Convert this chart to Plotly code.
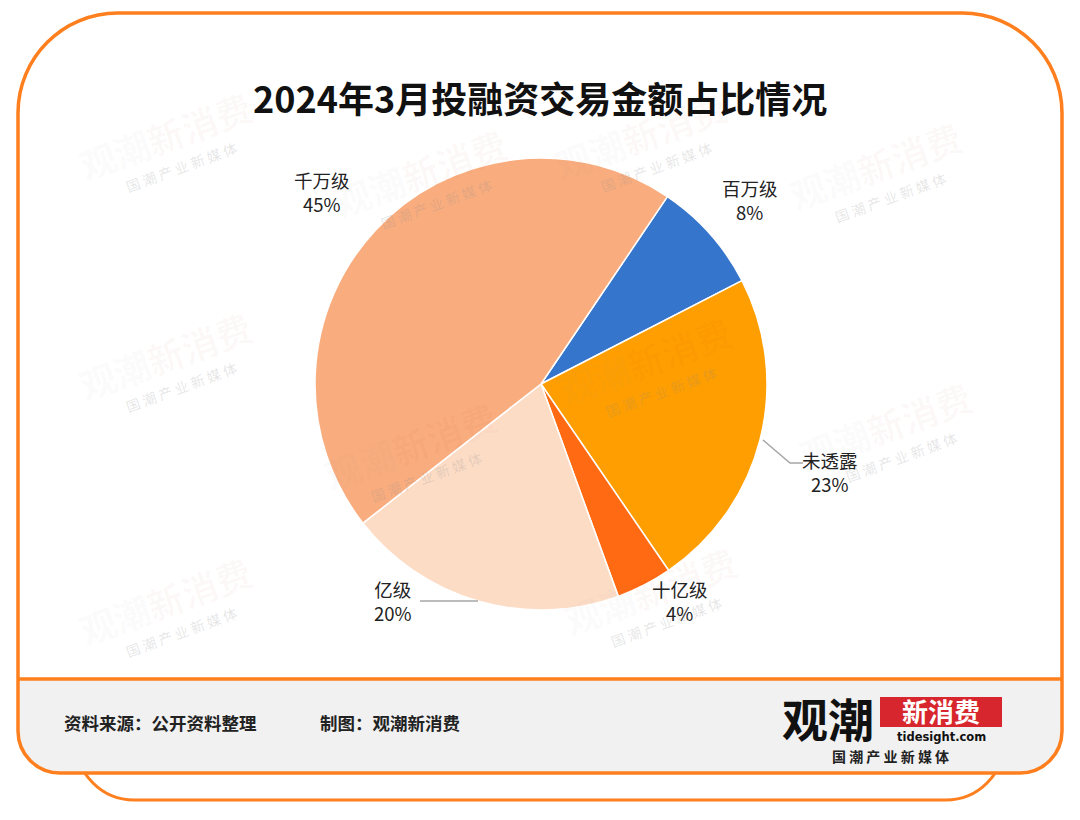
import math
import plotly.graph_objects as go

# ---------------- data ----------------
labels = ["百万级", "未透露", "十亿级", "亿级", "千万级"]
values = [8, 23, 4, 20, 45]
colors = ["#3575CC", "#FF9E00", "#FF6A12", "#FDDCC6", "#F9AD7E"]
title_text = "2024年3月投融资交易金额占比情况"
source_text = "资料来源：公开资料整理"
maker_text = "制图：观潮新消费"

W, H = 1080, 820
OFF = 8  # page body margin offset


def X(px):
    return (px - OFF) / W


def Y(py):
    return 1 - (py - OFF) / H


def P(px, py):
    return f"{X(px):.5f},{Y(py):.5f}"


ORANGE = "#FF7F1E"
K = 0.5523

# ---------------- pie ----------------
cx, cy, r = 541, 384, 226
fig = go.Figure()
fig.add_trace(go.Pie(
    labels=labels, values=values, sort=False, direction="clockwise",
    rotation=34, textinfo="none", hoverinfo="label+percent",
    marker=dict(colors=colors, line=dict(color="white", width=1.5)),
    domain=dict(x=[X(cx - r), X(cx + r)], y=[Y(cy + r), Y(cy - r)]),
    showlegend=False,
))

shapes = []


def card_path(x0, y0, x1, y1, rt, rb):
    p = []
    p.append("M " + P(x0, y1 - rb))
    p.append("L " + P(x0, y0 + rt))
    p.append("C " + P(x0, y0 + rt - K * rt) + " " + P(x0 + rt - K * rt, y0) + " " + P(x0 + rt, y0))
    p.append("L " + P(x1 - rt, y0))
    p.append("C " + P(x1 - rt + K * rt, y0) + " " + P(x1, y0 + rt - K * rt) + " " + P(x1, y0 + rt))
    p.append("L " + P(x1, y1 - rb))
    p.append("C " + P(x1, y1 - rb + K * rb) + " " + P(x1 - rb + K * rb, y1) + " " + P(x1 - rb, y1))
    p.append("L " + P(x0 + rb, y1))
    p.append("C " + P(x0 + rb - K * rb, y1) + " " + P(x0, y1 - rb + K * rb) + " " + P(x0, y1 - rb))
    p.append("Z")
    return " ".join(p)


def bottom_path(x0, y0, x1, y1, rb, closed=True):
    p = ["M " + P(x0, y0), "L " + P(x0, y1 - rb),
         "C " + P(x0, y1 - rb + K * rb) + " " + P(x0 + rb - K * rb, y1) + " " + P(x0 + rb, y1),
         "L " + P(x1 - rb, y1),
         "C " + P(x1 - rb + K * rb, y1) + " " + P(x1, y1 - rb + K * rb) + " " + P(x1, y1 - rb),
         "L " + P(x1, y0)]
    if closed:
        p.append("Z")
    return " ".join(p)


# back card
shapes.append(dict(type="path", xref="paper", yref="paper", layer="below",
                   path=bottom_path(76, 700, 1004, 800, 58, closed=False),
                   line=dict(color=ORANGE, width=3), fillcolor="rgba(0,0,0,0)"))
# main card fill
shapes.append(dict(type="path", xref="paper", yref="paper", layer="below",
                   path=card_path(18, 13, 1062, 773, 100, 42),
                   line=dict(width=0), fillcolor="white"))
# footer fill
shapes.append(dict(type="path", xref="paper", yref="paper", layer="below",
                   path=bottom_path(18, 679, 1062, 773, 42),
                   line=dict(width=0), fillcolor="#F1F1F1"))
# main card outline
shapes.append(dict(type="path", xref="paper", yref="paper", layer="below",
                   path=card_path(18, 13, 1062, 773, 100, 42),
                   line=dict(color=ORANGE, width=3.5), fillcolor="rgba(0,0,0,0)"))
# footer separator
shapes.append(dict(type="line", xref="paper", yref="paper", layer="below",
                   x0=X(18), x1=X(1062), y0=Y(679), y1=Y(679),
                   line=dict(color=ORANGE, width=3.5)))
# logo red box
shapes.append(dict(type="rect", xref="paper", yref="paper", layer="above",
                   x0=X(880), x1=X(1002), y0=Y(727), y1=Y(697),
                   line=dict(width=0), fillcolor="#D7262D"))

# leader lines
LEADER = "#A6A6A6"
shapes.append(dict(type="path", xref="paper", yref="paper", layer="above",
                   path="M " + P(763, 440) + " L " + P(790, 463) + " L " + P(803, 463),
                   line=dict(color=LEADER, width=1.5), fillcolor="rgba(0,0,0,0)"))
shapes.append(dict(type="line", xref="paper", yref="paper", layer="above",
                   x0=X(420), x1=X(478), y0=Y(601), y1=Y(601),
                   line=dict(color=LEADER, width=1.5)))

annotations = []
FONT = "Noto Sans CJK SC"

# watermarks
wm_pos = [(165, 135), (165, 355), (165, 600),
          (420, 172), (410, 445),
          (640, 135), (645, 360), (650, 590),
          (875, 165), (885, 425)]
for (wx, wy) in wm_pos:
    annotations.append(dict(
        x=X(wx), y=Y(wy), xref="paper", yref="paper", showarrow=False,
        text="<b><span style='color:rgba(140,140,140,0.22)'>观潮</span>"
             "<span style='color:rgba(215,38,45,0.15)'>新消费</span></b>",
        textangle=-20, font=dict(family=FONT, size=36, color="rgba(140,140,140,0.22)"),
        xanchor="center", yanchor="middle"))
    annotations.append(dict(
        x=X(wx + 16), y=Y(wy + 32), xref="paper", yref="paper", showarrow=False,
        text="国 潮 产 业 新 媒 体", textangle=-20,
        font=dict(family=FONT, size=14, color="rgba(140,140,140,0.22)"),
        xanchor="center", yanchor="middle"))

# title
annotations.append(dict(x=X(540), y=Y(97), xref="paper", yref="paper", showarrow=False,
                        text="<b>" + title_text + "</b>",
                        font=dict(family=FONT, size=36, color="#111111"),
                        xanchor="center", yanchor="middle"))

# slice labels
label_pos = [(750, 200), (830, 472), (680, 601), (393, 601), (322, 192)]
for lab, val, (lx, ly) in zip(labels, values, label_pos):
    annotations.append(dict(x=X(lx), y=Y(ly), xref="paper", yref="paper", showarrow=False,
                            text=f"{lab}<br>{val}%", align="center",
                            font=dict(family=FONT, size=18.5, color="#222222"),
                            xanchor="center", yanchor="middle"))

# footer texts
annotations.append(dict(x=X(62), y=Y(722), xref="paper", yref="paper", showarrow=False,
                        text="<b>" + source_text + "</b>",
                        font=dict(family=FONT, size=17.5, color="#222222"),
                        xanchor="left", yanchor="middle"))
annotations.append(dict(x=X(318), y=Y(722), xref="paper", yref="paper", showarrow=False,
                        text="<b>" + maker_text + "</b>",
                        font=dict(family=FONT, size=17.5, color="#222222"),
                        xanchor="left", yanchor="middle"))

# logo
annotations.append(dict(x=X(828), y=Y(717), xref="paper", yref="paper", showarrow=False,
                        text="<b>观潮</b>", font=dict(family=FONT, size=46, color="#111111"),
                        xanchor="center", yanchor="middle"))
annotations.append(dict(x=X(941), y=Y(710), xref="paper", yref="paper", showarrow=False,
                        text="<b>新消费</b>", font=dict(family=FONT, size=26, color="white"),
                        xanchor="center", yanchor="middle"))
annotations.append(dict(x=X(941), y=Y(737), xref="paper", yref="paper", showarrow=False,
                        text="<b>tidesight.com</b>", font=dict(family="DejaVu Sans", size=11.5, color="#111111"),
                        xanchor="center", yanchor="middle"))
annotations.append(dict(x=X(891), y=Y(756), xref="paper", yref="paper", showarrow=False,
                        text="<b>国 潮 产 业 新 媒 体</b>", font=dict(family=FONT, size=14, color="#222222"),
                        xanchor="center", yanchor="middle"))

fig.update_layout(
    width=W, height=H, margin=dict(l=0, r=0, t=0, b=0),
    paper_bgcolor="white", plot_bgcolor="white",
    shapes=shapes, annotations=annotations,
    font=dict(family=FONT),
)

fig.write_html("out.html")
